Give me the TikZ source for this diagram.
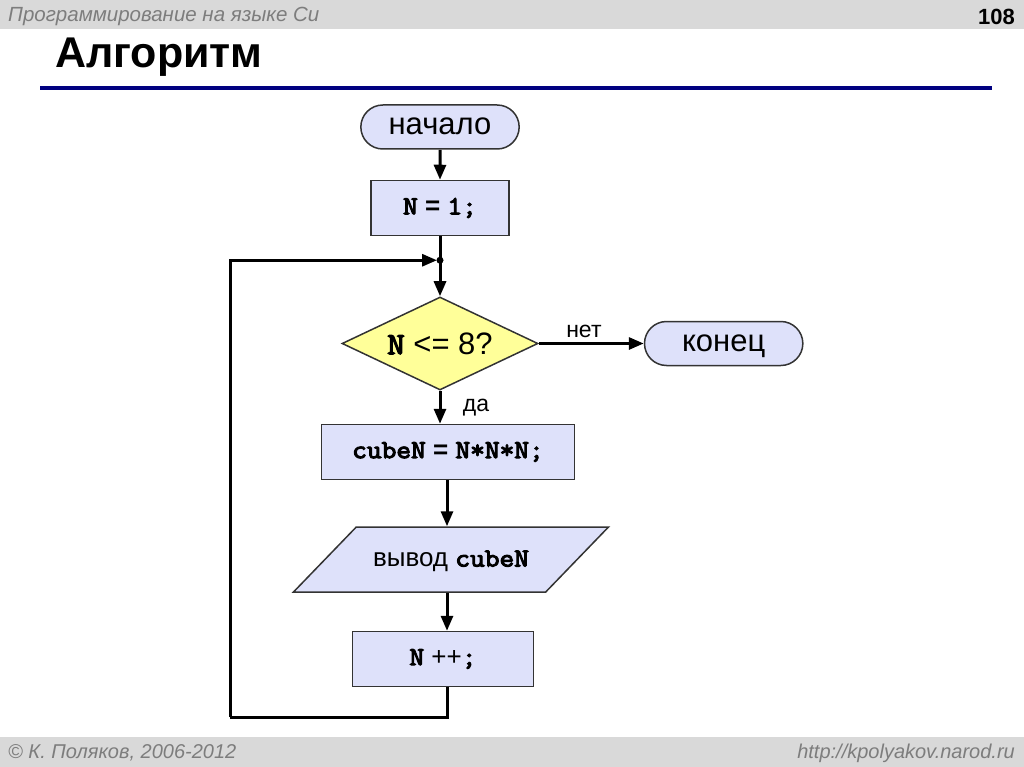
\documentclass[tikz,border=0pt]{standalone}
\usepackage{fontspec}
\setmainfont{Liberation Sans}
\newfontfamily\codefont{Latin Modern Mono}[FakeBold=4,FakeStretch=1.1]
\usetikzlibrary{positioning,calc,shapes.geometric,shapes.misc,arrows.meta}
\definecolor{boxfill}{RGB}{222,225,250}
\definecolor{condfill}{RGB}{255,255,153}
\definecolor{barfill}{RGB}{217,217,217}
\definecolor{bartext}{RGB}{125,125,125}
\definecolor{rulenavy}{RGB}{0,0,128}
\newcommand{\code}[1]{{\codefont #1}}

\begin{document}
\begin{tikzpicture}
	[
	x=1pt,y=-1pt,
	every node/.style={font=\fontsize{31}{36}\selectfont},
	codetext/.style={font=\fontsize{26}{30}\selectfont},
	term/.style={rounded rectangle,draw=black!80,line width=1.5pt,fill=boxfill,minimum width=165pt,minimum height=44pt,text height=16pt,text depth=0pt},
	proc/.style={rectangle,draw=black!80,line width=1.5pt,fill=boxfill,minimum height=55pt},
	cond/.style={diamond,draw=black!80,line width=1.5pt,fill=condfill,aspect=2.1,inner sep=0pt,minimum width=196pt,minimum height=93pt},
	io/.style={trapezium,trapezium left angle=46,trapezium right angle=134,trapezium stretches body,draw=black!80,line width=1.5pt,fill=boxfill,minimum width=315pt,text height=18pt,text depth=4pt,inner ysep=21.5pt},
	flow/.style={line width=3pt,-{Triangle[length=15pt,width=12pt]}},
	branch/.style={font=\fontsize{23}{26}\selectfont},
	]
	% slide frame
	\useasboundingbox (0,0) rectangle (1024,767);
	\fill[barfill] (0,0) rectangle (1024,29);
	\fill[barfill] (0,737) rectangle (1024,767);
	\node[anchor=base west,inner sep=0,text=bartext,font=\fontsize{20.5}{24}\selectfont\itshape] (course) at (8,22) {Программирование на языке Си};
	\node[anchor=base east,inner sep=0,font=\fontsize{22}{24}\selectfont\bfseries] (page) at (1015,25) {108};
	\node[anchor=base west,inner sep=0,font=\fontsize{43}{48}\selectfont\bfseries] (title) at (55,68) {Алгоритм};
	\draw[rulenavy,line width=4pt] (40,88) -- (992,88);
	\node[anchor=base west,inner sep=0,text=bartext,font=\fontsize{20}{24}\selectfont\itshape] (author) at (8,758) {© К. Поляков, 2006-2012};
	\node[anchor=base east,inner sep=0,text=bartext,font=\fontsize{20}{24}\selectfont\itshape] (site) at (1015,758) {http://kpolyakov.narod.ru};

	% flowchart
	\node[term] (start) at (440,127) {начало};
	\node[proc,codetext,minimum width=138pt,below=30pt of start] (init) {\code{N} \textbf{=} \code{1;}};
	\node[cond,below=60pt of init] (check) {\code{N} <= 8?};
	\node[term,right=105pt of check] (stop) {конец};
	\node[proc,codetext,minimum width=253pt,below=33pt of check,xshift=8pt] (cube) {\code{cubeN} \textbf{=} \code{N*N*N;}};
	\node[io,below=46pt of cube,xshift=3pt] (out) {\fontsize{26}{30}\selectfont вывод \code{cubeN}};
	\node[proc,codetext,minimum width=181pt,below=38pt of out,xshift=-8pt] (inc) {\code{N} ++\code{;}};
	\coordinate (join) at ($(init.south)!0.4!(check.north)$);
	\coordinate (loopcorner) at (230,717);

	\draw[flow] (start) -- (init);
	\draw[flow] (init) -- (check);
	\fill (join) circle (3.5pt);
	\draw[flow] (check) -- node[branch,above=1pt,pos=0.43] {нет} (stop);
	\draw[flow] (check.south) -- node[branch,right=18pt] {да} (check.south |- cube.north);
	\draw[flow] (cube.south -| 447,0) -- (out.north -| 447,0);
	\draw[flow] (out.south -| 447,0) -- (inc.north -| 447,0);
	\draw[line width=3pt] (inc.south -| 447,0) |- (loopcorner);
	\draw[flow,shorten >=3pt] (loopcorner) |- (join);
\end{tikzpicture}
\end{document}
